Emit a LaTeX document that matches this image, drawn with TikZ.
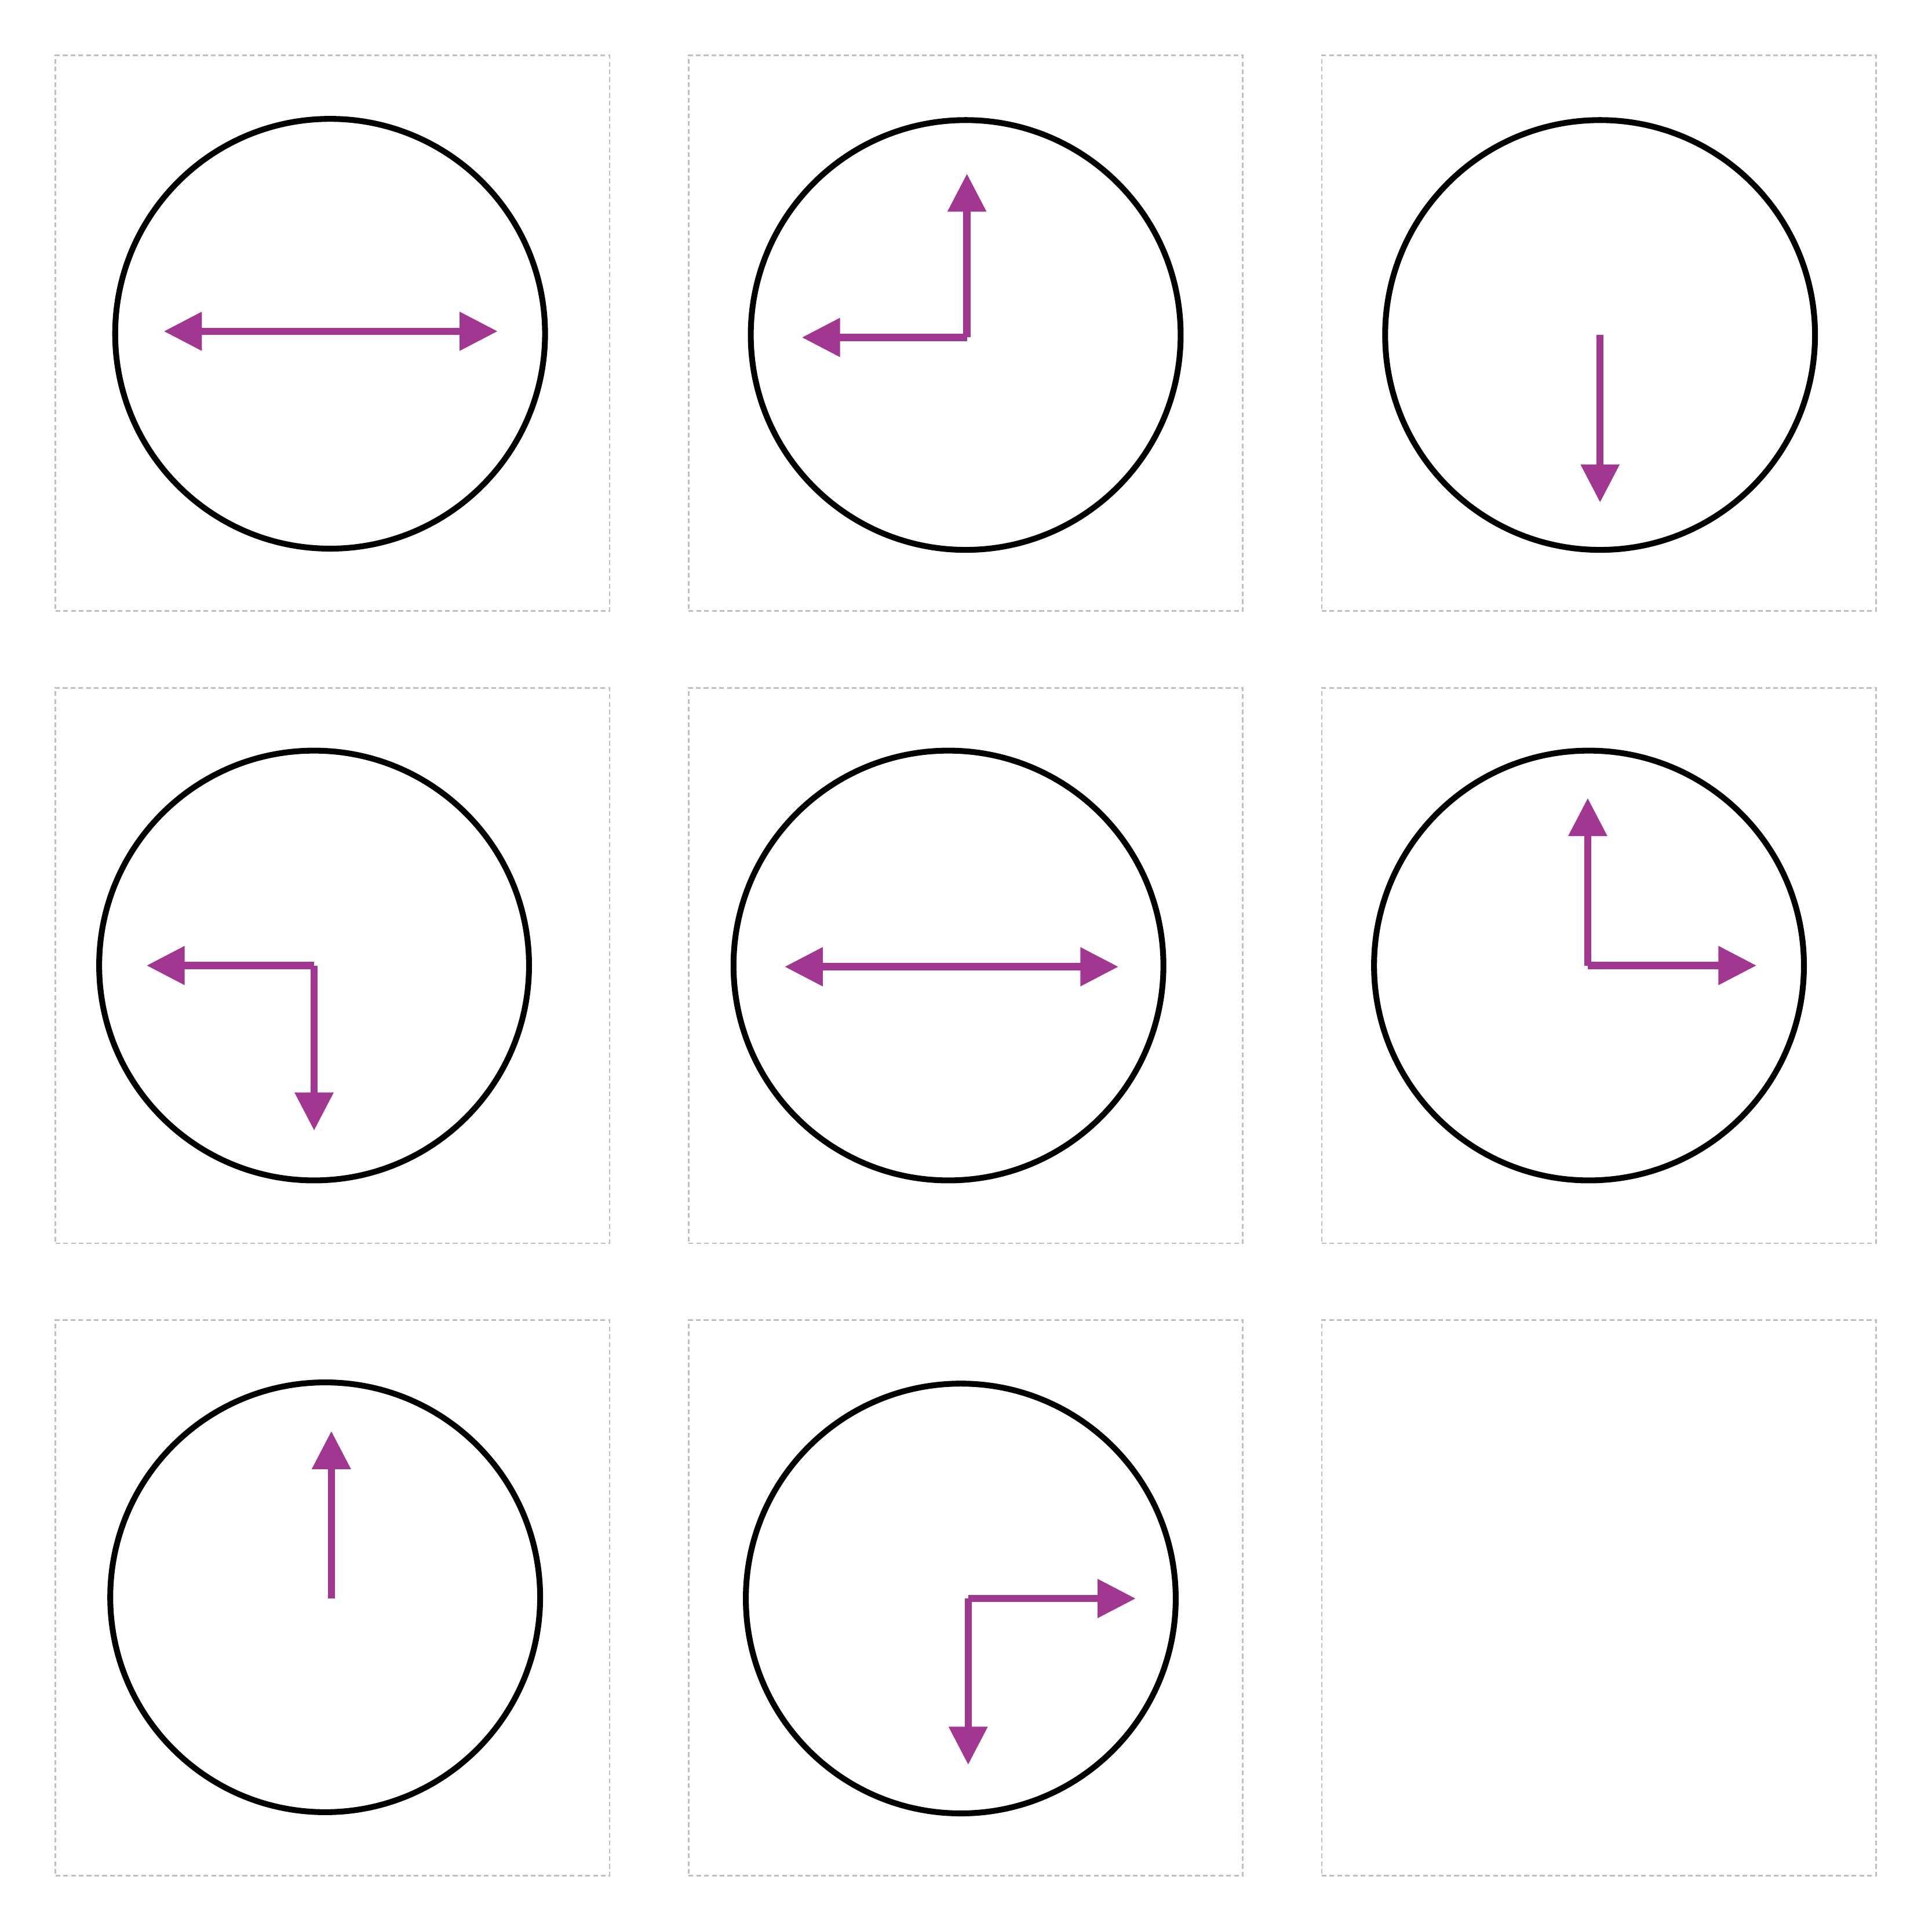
\documentclass[tikz,border=0pt]{standalone}
\usepackage{tikz}
\usetikzlibrary{arrows.meta}
\usepackage{xcolor}
\definecolor{handpurple}{RGB}{162,55,146}

\begin{document}
\begin{tikzpicture}[
x=0.1mm,y=-0.1mm,
cell/.style={rectangle,draw=black!25,dash pattern=on 1.1pt off 0.7pt,line width=0.35pt,minimum width=4.5cm,minimum height=4.51cm,inner sep=0pt},
clock/.style={circle,draw,line width=1.35pt,minimum size=3.49cm,inner sep=0pt},
hand/.style={-{Triangle[length=8.8pt,width=8.6pt]},line width=1.65pt,handpurple}
]
\useasboundingbox (0,0) rectangle (1568,1568);

\node[cell] (b1) at (270,270.5) {};
\node[cell] (b2) at (784,270.5) {};
\node[cell] (b3) at (1298,270.5) {};
\node[cell] (b4) at (270,784) {};
\node[cell] (b5) at (784,784) {};
\node[cell] (b6) at (1298,784) {};
\node[cell] (b7) at (270,1297.5) {};
\node[cell] (b8) at (784,1297.5) {};
\node[cell] (b9) at (1298,1297.5) {};

\node[clock] (c1) at (268,271) {};
\node[clock] (c2) at (784,272) {};
\node[clock] (c3) at (1299,272) {};
\node[clock] (c4) at (255,784) {};
\node[clock] (c5) at (770,784) {};
\node[clock] (c6) at (1290,784) {};
\node[clock] (c7) at (264,1297) {};
\node[clock] (c8) at (780,1298) {};

\coordinate (o1) at (268,269);
\coordinate (o2) at (785,274);
\coordinate (o3) at (1299,272);
\coordinate (o4) at (255,784);
\coordinate (o5) at (772,785);
\coordinate (o6) at (1289,784);
\coordinate (o7) at (269,1298);
\coordinate (o8) at (786,1298);

\draw[hand] (o1) -- ++(-135,0);
\draw[hand] (o1) -- ++(136,0);
\draw[hand] (o2) -- ++(0,-133);
\draw[hand] (o2) -- ++(-134,0);
\draw[hand] (o3) -- ++(0,136);
\draw[hand] (o4) -- ++(-136,0);
\draw[hand] (o4) -- ++(0,134);
\draw[hand] (o5) -- ++(-135,0);
\draw[hand] (o5) -- ++(136,0);
\draw[hand] (o6) -- ++(0,-136);
\draw[hand] (o6) -- ++(137,0);
\draw[hand] (o7) -- ++(0,-136);
\draw[hand] (o8) -- ++(136,0);
\draw[hand] (o8) -- ++(0,135);
\end{tikzpicture}
\end{document}
